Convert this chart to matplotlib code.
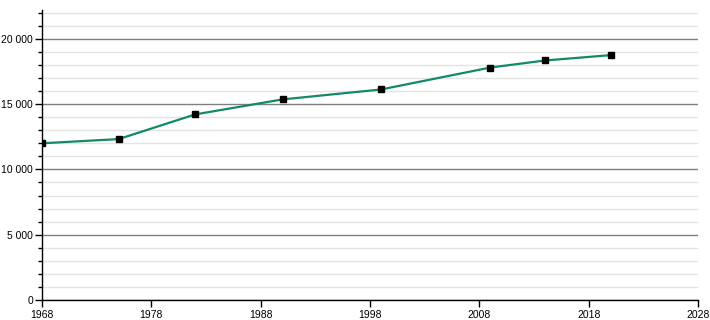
import matplotlib.pyplot as plt
from matplotlib.ticker import MultipleLocator, FuncFormatter

# Données
annees = [1968, 1975, 1982, 1990, 1999, 2009, 2014, 2020]
population = [12000, 12320, 14210, 15360, 16120, 17800, 18340, 18750]
xticks = [1968, 1978, 1988, 1998, 2008, 2018, 2028]

plt.rcParams['font.family'] = ['Liberation Sans', 'DejaVu Sans']

fig = plt.figure(figsize=(7.1, 3.2), dpi=100)
ax = fig.add_axes([0.0592, 0.0625, 0.924, 0.906])

ax.plot(annees, population, color="#13896a", lw=1.6, zorder=3)
ax.plot(annees, population, ls="none", marker="s", ms=3.8, color="black", zorder=4)

ax.set_xlim(1968, 2028)
ax.set_ylim(0, 22200)
ax.set_xticks(xticks)
ax.yaxis.set_major_locator(MultipleLocator(5000))
ax.yaxis.set_minor_locator(MultipleLocator(1000))
ax.yaxis.set_major_formatter(FuncFormatter(lambda v, p: f"{int(v):,}".replace(",", " ")))

ax.grid(axis="y", which="major", color="#7f7f7f", lw=1.0, zorder=1)
ax.grid(axis="y", which="minor", color="#e3e3e3", lw=1.0, zorder=0)

for s in ["top", "right"]:
    ax.spines[s].set_visible(False)
for s in ["left", "bottom"]:
    ax.spines[s].set_color("black")
    ax.spines[s].set_linewidth(1.0)

ax.tick_params(axis="both", which="major", labelsize=7.5, length=5, width=1, color="black")
ax.tick_params(axis="y", which="minor", length=3, width=1, color="black")
ax.tick_params(axis="y", which="major", pad=1.5)
ax.tick_params(axis="x", pad=2)

plt.savefig("out.png", dpi=100)
